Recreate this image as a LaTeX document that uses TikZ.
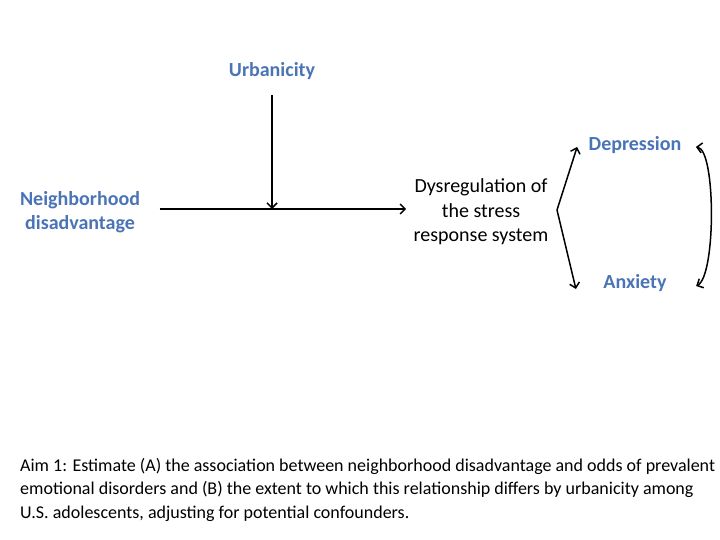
\documentclass[tikz,border=0pt]{standalone}
\usepackage{fontspec}
\setmainfont{Carlito}
\usetikzlibrary{arrows,arrows.meta}
\definecolor{labelblue}{HTML}{4A74B6}
\tikzstyle{factor} = [font=\bfseries\fontsize{20}{24}\selectfont, text=labelblue, align=center]
\tikzstyle{process} = [font=\fontsize{20}{24.5}\selectfont, align=center]
\tikzstyle{caption} = [font=\fontsize{18}{23.5}\selectfont, align=left, anchor=north west, inner sep=0pt]
\tikzstyle{line} = [draw, line width=1.5pt, -{Straight Barb[length=5pt,width=10pt]}]

\begin{document}
\begin{tikzpicture}[x=1pt, y=-1pt]
  \useasboundingbox (0,0) rectangle (720,540);
  \node [factor] (urb) at (272,71) {Urbanicity};
  \node [factor] (nd) at (80,212) {Neighborhood\\disadvantage};
  \node [process] (dys) at (481,212) {Dysregulation of\\the stress\\response system};
  \node [factor] (dep) at (635,145) {Depression};
  \node [factor] (anx) at (635,283) {Anxiety};
  \coordinate (join) at (272,209);
  \coordinate (fork) at (557,210);
  \path [line] ([xshift=16pt,yshift=3pt]nd.east) -- ([xshift=-4pt,yshift=3pt]dys.west);
  \path [line] (urb.south) ++(0,12) -- (join);
  \path [line] (fork) -- ([xshift=-8pt,yshift=-2pt]dep.west);
  \path [line] (fork) -- ([xshift=-24pt,yshift=-6pt]anx.west);
  \path [line, {Straight Barb[length=5pt,width=10pt]}-{Straight Barb[length=5pt,width=10pt]}] ([xshift=11pt,yshift=-2pt]dep.east) .. controls (716,150) and (716,276) .. ([xshift=26pt,yshift=-3pt]anx.east);
  \node [caption] (aim) at (20,458) {Aim 1: Estimate (A) the association between neighborhood disadvantage and odds of prevalent\\emotional disorders and (B) the extent to which this relationship differs by urbanicity among\\U.S. adolescents, adjusting for potential confounders.};
\end{tikzpicture}
\end{document}
